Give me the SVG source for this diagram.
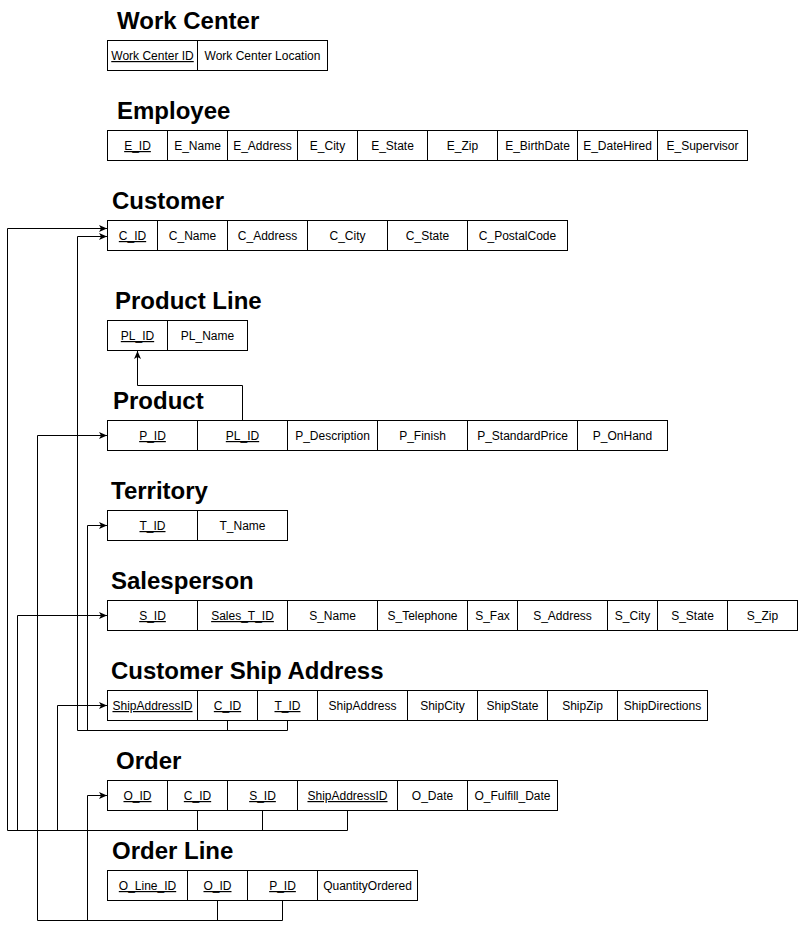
<svg xmlns="http://www.w3.org/2000/svg" width="798" height="929" viewBox="0 0 798 929">
<style>
.bg{fill:#fff}
.cell{fill:#fff;stroke:#000;stroke-width:1}
.t{font-family:"Liberation Sans",Arial,sans-serif;font-size:12px;fill:#000;text-anchor:middle}
.k{text-decoration:underline}
.h{font-family:"Liberation Sans",Arial,sans-serif;font-size:24px;font-weight:bold;fill:#000}
.e{fill:none;stroke:#000;stroke-width:1}
</style>
<defs>
<marker id="arr" markerWidth="9" markerHeight="8" refX="8" refY="4" orient="auto" markerUnits="userSpaceOnUse">
<path d="M0,0.5 L8,4 L0,7.5 L2,4 Z" fill="#000"/>
</marker>
</defs>
<rect class="bg" x="0" y="0" width="798" height="929"/>

<g id="work-center">
<text class="h" x="117" y="29">Work Center</text>
<rect class="cell" x="107.5" y="40.5" width="90" height="30"/>
<rect class="cell" x="197.5" y="40.5" width="130" height="30"/>
<text class="t k" x="152.5" y="60">Work Center ID</text>
<text class="t" x="262.5" y="60">Work Center Location</text>
</g>

<g id="employee">
<text class="h" x="117" y="119">Employee</text>
<rect class="cell" x="107.5" y="130.5" width="60" height="30"/>
<rect class="cell" x="167.5" y="130.5" width="60" height="30"/>
<rect class="cell" x="227.5" y="130.5" width="70" height="30"/>
<rect class="cell" x="297.5" y="130.5" width="60" height="30"/>
<rect class="cell" x="357.5" y="130.5" width="70" height="30"/>
<rect class="cell" x="427.5" y="130.5" width="70" height="30"/>
<rect class="cell" x="497.5" y="130.5" width="80" height="30"/>
<rect class="cell" x="577.5" y="130.5" width="80" height="30"/>
<rect class="cell" x="657.5" y="130.5" width="90" height="30"/>
<text class="t k" x="137.5" y="150">E_ID</text>
<text class="t" x="197.5" y="150">E_Name</text>
<text class="t" x="262.5" y="150">E_Address</text>
<text class="t" x="327.5" y="150">E_City</text>
<text class="t" x="392.5" y="150">E_State</text>
<text class="t" x="462.5" y="150">E_Zip</text>
<text class="t" x="537.5" y="150">E_BirthDate</text>
<text class="t" x="617.5" y="150">E_DateHired</text>
<text class="t" x="702.5" y="150">E_Supervisor</text>
</g>

<g id="customer">
<text class="h" x="112" y="209">Customer</text>
<rect class="cell" x="107.5" y="220.5" width="50" height="30"/>
<rect class="cell" x="157.5" y="220.5" width="70" height="30"/>
<rect class="cell" x="227.5" y="220.5" width="80" height="30"/>
<rect class="cell" x="307.5" y="220.5" width="80" height="30"/>
<rect class="cell" x="387.5" y="220.5" width="80" height="30"/>
<rect class="cell" x="467.5" y="220.5" width="100" height="30"/>
<text class="t k" x="132.5" y="240">C_ID</text>
<text class="t" x="192.5" y="240">C_Name</text>
<text class="t" x="267.5" y="240">C_Address</text>
<text class="t" x="347.5" y="240">C_City</text>
<text class="t" x="427.5" y="240">C_State</text>
<text class="t" x="517.5" y="240">C_PostalCode</text>
</g>

<g id="product-line">
<text class="h" x="115" y="309">Product Line</text>
<rect class="cell" x="107.5" y="320.5" width="60" height="30"/>
<rect class="cell" x="167.5" y="320.5" width="80" height="30"/>
<text class="t k" x="137.5" y="340">PL_ID</text>
<text class="t" x="207.5" y="340">PL_Name</text>
</g>

<g id="product">
<text class="h" x="113" y="409">Product</text>
<rect class="cell" x="107.5" y="420.5" width="90" height="30"/>
<rect class="cell" x="197.5" y="420.5" width="90" height="30"/>
<rect class="cell" x="287.5" y="420.5" width="90" height="30"/>
<rect class="cell" x="377.5" y="420.5" width="90" height="30"/>
<rect class="cell" x="467.5" y="420.5" width="110" height="30"/>
<rect class="cell" x="577.5" y="420.5" width="90" height="30"/>
<text class="t k" x="152.5" y="440">P_ID</text>
<text class="t k" x="242.5" y="440">PL_ID</text>
<text class="t" x="332.5" y="440">P_Description</text>
<text class="t" x="422.5" y="440">P_Finish</text>
<text class="t" x="522.5" y="440">P_StandardPrice</text>
<text class="t" x="622.5" y="440">P_OnHand</text>
</g>

<g id="territory">
<text class="h" x="111" y="499">Territory</text>
<rect class="cell" x="107.5" y="510.5" width="90" height="30"/>
<rect class="cell" x="197.5" y="510.5" width="90" height="30"/>
<text class="t k" x="152.5" y="530">T_ID</text>
<text class="t" x="242.5" y="530">T_Name</text>
</g>

<g id="salesperson">
<text class="h" x="111" y="589">Salesperson</text>
<rect class="cell" x="107.5" y="600.5" width="90" height="30"/>
<rect class="cell" x="197.5" y="600.5" width="90" height="30"/>
<rect class="cell" x="287.5" y="600.5" width="90" height="30"/>
<rect class="cell" x="377.5" y="600.5" width="90" height="30"/>
<rect class="cell" x="467.5" y="600.5" width="50" height="30"/>
<rect class="cell" x="517.5" y="600.5" width="90" height="30"/>
<rect class="cell" x="607.5" y="600.5" width="50" height="30"/>
<rect class="cell" x="657.5" y="600.5" width="70" height="30"/>
<rect class="cell" x="727.5" y="600.5" width="70" height="30"/>
<text class="t k" x="152.5" y="620">S_ID</text>
<text class="t k" x="242.5" y="620">Sales_T_ID</text>
<text class="t" x="332.5" y="620">S_Name</text>
<text class="t" x="422.5" y="620">S_Telephone</text>
<text class="t" x="492.5" y="620">S_Fax</text>
<text class="t" x="562.5" y="620">S_Address</text>
<text class="t" x="632.5" y="620">S_City</text>
<text class="t" x="692.5" y="620">S_State</text>
<text class="t" x="762.5" y="620">S_Zip</text>
</g>

<g id="customer-ship-address">
<text class="h" x="111" y="679">Customer Ship Address</text>
<rect class="cell" x="107.5" y="690.5" width="90" height="30"/>
<rect class="cell" x="197.5" y="690.5" width="60" height="30"/>
<rect class="cell" x="257.5" y="690.5" width="60" height="30"/>
<rect class="cell" x="317.5" y="690.5" width="90" height="30"/>
<rect class="cell" x="407.5" y="690.5" width="70" height="30"/>
<rect class="cell" x="477.5" y="690.5" width="70" height="30"/>
<rect class="cell" x="547.5" y="690.5" width="70" height="30"/>
<rect class="cell" x="617.5" y="690.5" width="90" height="30"/>
<text class="t k" x="152.5" y="710">ShipAddressID</text>
<text class="t k" x="227.5" y="710">C_ID</text>
<text class="t k" x="287.5" y="710">T_ID</text>
<text class="t" x="362.5" y="710">ShipAddress</text>
<text class="t" x="442.5" y="710">ShipCity</text>
<text class="t" x="512.5" y="710">ShipState</text>
<text class="t" x="582.5" y="710">ShipZip</text>
<text class="t" x="662.5" y="710">ShipDirections</text>
</g>

<g id="order">
<text class="h" x="116" y="769">Order</text>
<rect class="cell" x="107.5" y="780.5" width="60" height="30"/>
<rect class="cell" x="167.5" y="780.5" width="60" height="30"/>
<rect class="cell" x="227.5" y="780.5" width="70" height="30"/>
<rect class="cell" x="297.5" y="780.5" width="100" height="30"/>
<rect class="cell" x="397.5" y="780.5" width="70" height="30"/>
<rect class="cell" x="467.5" y="780.5" width="90" height="30"/>
<text class="t k" x="137.5" y="800">O_ID</text>
<text class="t k" x="197.5" y="800">C_ID</text>
<text class="t k" x="262.5" y="800">S_ID</text>
<text class="t k" x="347.5" y="800">ShipAddressID</text>
<text class="t" x="432.5" y="800">O_Date</text>
<text class="t" x="512.5" y="800">O_Fulfill_Date</text>
</g>

<g id="order-line">
<text class="h" x="112" y="859">Order Line</text>
<rect class="cell" x="107.5" y="870.5" width="80" height="30"/>
<rect class="cell" x="187.5" y="870.5" width="60" height="30"/>
<rect class="cell" x="247.5" y="870.5" width="70" height="30"/>
<rect class="cell" x="317.5" y="870.5" width="100" height="30"/>
<text class="t k" x="147.5" y="890">O_Line_ID</text>
<text class="t k" x="217.5" y="890">O_ID</text>
<text class="t k" x="282.5" y="890">P_ID</text>
<text class="t" x="367.5" y="890">QuantityOrdered</text>
</g>

<g id="connectors">
<path class="e" marker-end="url(#arr)" d="M197.5,810.5 V830.5 H7.5 V228.5 H107"/>
<path class="e" marker-end="url(#arr)" d="M262.5,810.5 V830.5 H17.5 V615.5 H107"/>
<path class="e" marker-end="url(#arr)" d="M347.5,810.5 V830.5 H57.5 V705.5 H107"/>
<path class="e" marker-end="url(#arr)" d="M227.5,720.5 V730.5 H77.5 V236.5 H107"/>
<path class="e" marker-end="url(#arr)" d="M287.5,720.5 V730.5 H87.5 V525.5 H107"/>
<path class="e" marker-end="url(#arr)" d="M217.5,900.5 V920.5 H87.5 V795.5 H107"/>
<path class="e" marker-end="url(#arr)" d="M282.5,900.5 V920.5 H37.5 V435.5 H107"/>
<path class="e" marker-end="url(#arr)" d="M242.5,420.5 V385.5 H137.5 V351"/>
</g>
</svg>
